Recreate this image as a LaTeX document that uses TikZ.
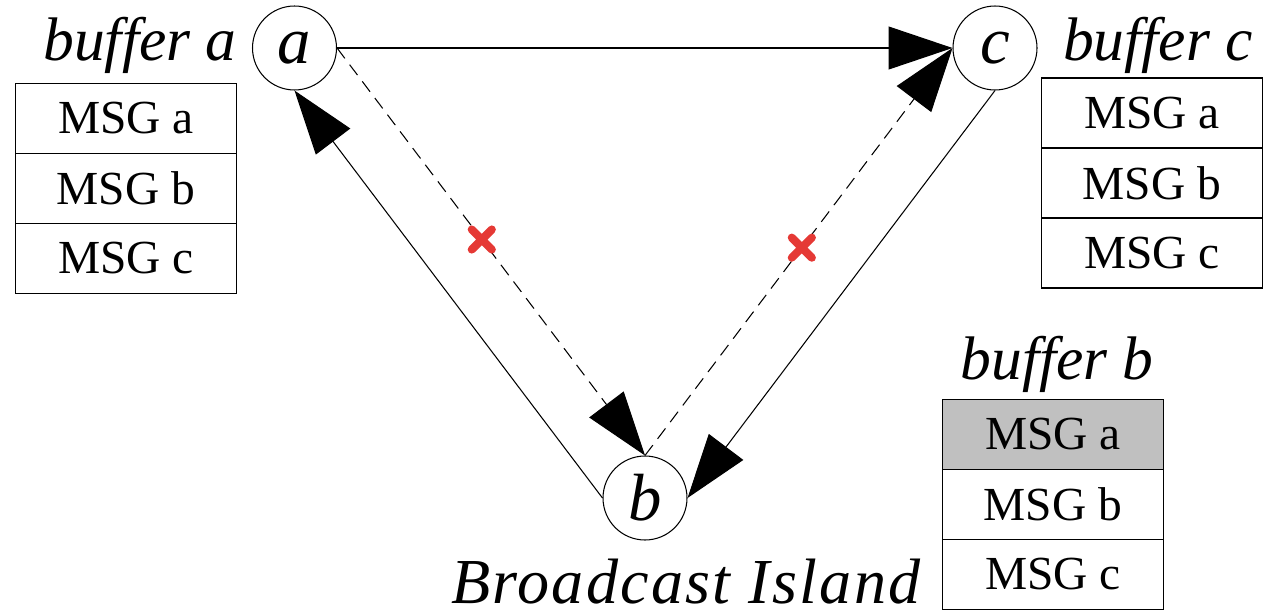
\documentclass[tikz,border=0pt]{standalone}
\usepackage{fontspec}
\setmainfont{Liberation Serif}
\usetikzlibrary{arrows.meta,shapes.misc}
\definecolor{xred}{RGB}{229,57,53}
\definecolor{cellgray}{RGB}{192,192,192}
\tikzset{
  vertex/.style={circle, draw, line width=0.6pt, minimum size=1.68cm, inner sep=0pt,
    font=\fontsize{38}{40}\selectfont\itshape},
  cell/.style={rectangle, draw, line width=0.7pt, minimum width=4.42cm, minimum height=1.4cm,
    inner sep=0pt, font=\fontsize{27}{30}\selectfont},
  buflabel/.style={font=\fontsize{35}{38}\selectfont\itshape, inner sep=0pt},
  link/.style={line width=0.6pt, -{Triangle[length=1.28cm,width=0.86cm]}},
  dlink/.style={link, dash pattern=on 7.4pt off 4.5pt},
  xmark/.style={cross out, solid, draw=xred, line width=4.6pt, line cap=round, minimum size=0.24cm, inner sep=0pt}
}
\begin{document}
\begin{tikzpicture}[x=0.02cm,y=-0.02cm]
\useasboundingbox (0,0) rectangle (1266,611);
% nodes
\node[vertex] (a) at (294.5,48) {a};
\node[vertex] (c) at (995,48) {c};
\node[vertex] (b) at (645,498) {b};
% buffer a
\node[buflabel] (la) at (140,45) {buffer a};
\node[cell] (a1) at (126,118.5) {MSG a};
\node[cell] (a2) at (126,188.5) {MSG b};
\node[cell] (a3) at (126,258.5) {MSG c};
% buffer c
\node[buflabel] (lc) at (1158,45) {buffer c};
\node[cell] (c1) at (1152,113) {MSG a};
\node[cell] (c2) at (1152,183) {MSG b};
\node[cell] (c3) at (1152,253) {MSG c};
% buffer b
\node[buflabel] (lb) at (1057,364) {buffer b};
\node[cell, fill=cellgray] (b1) at (1053,434.5) {MSG a};
\node[cell] (b2) at (1053,504.5) {MSG b};
\node[cell] (b3) at (1053,574.5) {MSG c};
% caption
\node[buflabel, anchor=base, font=\fontsize{36.5}{38}\selectfont\itshape\addfontfeatures{LetterSpace=3.5}] (bi) at (686,603) {Broadcast Island};
% connectors
\draw[link] (a.east) -- (c.west);
\draw[link] (b.west) -- (a.south);
\draw[link] (c.south) -- (b.east);
\draw[dlink] (a.east) -- node[pos=0.47, xmark] (x1) {} (b.north);
\draw[dlink] (b.north) -- node[pos=0.51, xmark] (x2) {} (c.west);
\end{tikzpicture}
\end{document}
